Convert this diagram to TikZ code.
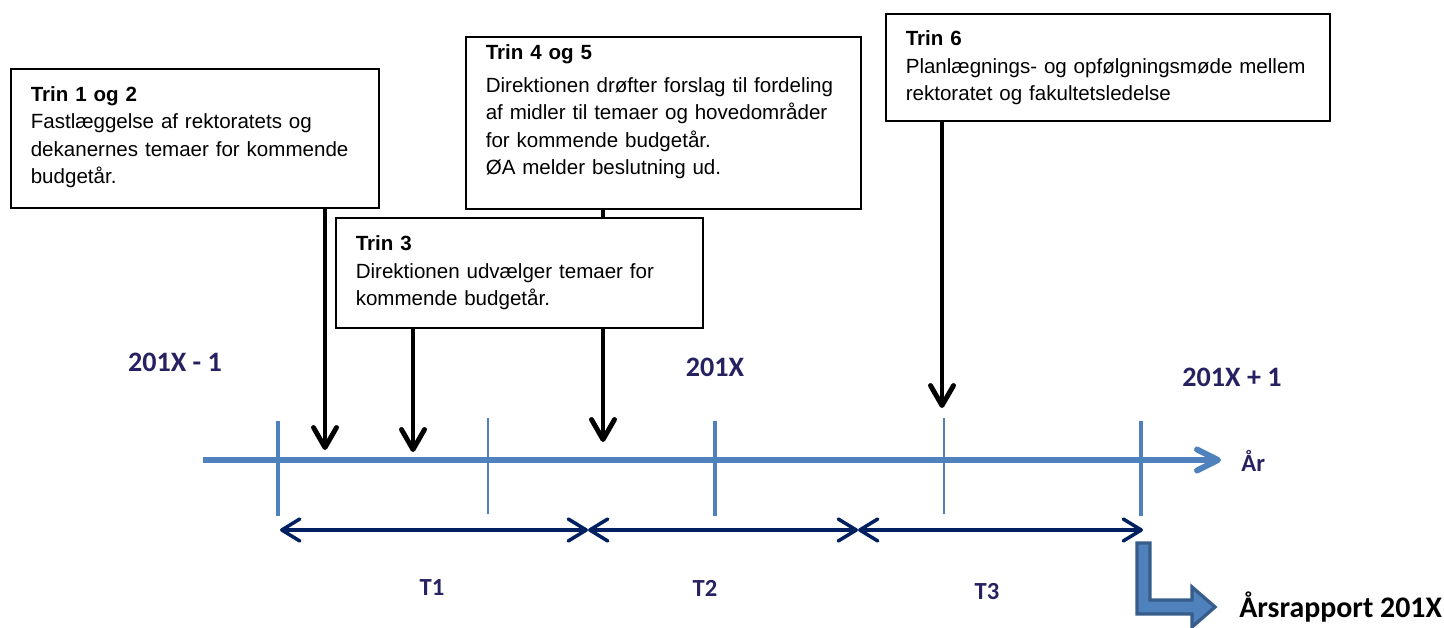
\documentclass[tikz,border=0pt]{standalone}
\usepackage{fontspec}
\setmainfont{Liberation Sans}
\newfontfamily\calibri{Carlito}
\usetikzlibrary{arrows.meta}
\hyphenpenalty=10000
\exhyphenpenalty=10000
\hbadness=10000
\hfuzz=2cm
\definecolor{AxisBlue}{RGB}{79,129,189}
\definecolor{SpanNavy}{RGB}{0,32,96}
\definecolor{LabelNavy}{RGB}{38,34,98}
\definecolor{ReportBlue}{RGB}{56,93,138}
\newcommand{\Px}{0.02cm}
\tikzset{StepBox/.style={
    draw=black,
    line width=0.9pt,
    fill=white,
    anchor=north west,
    inner xsep=0.4cm,
    inner ysep=0pt,
    align=left,
    font=\fontsize{11.7}{15.6}\selectfont
    }
}
\tikzset{StepArrow/.style={
    draw=black,
    line width=2.8pt,
    -{Straight Barb[length=0.4cm,width=0.46cm,round]}
    }
}
\tikzset{AxisLine/.style={
    draw=AxisBlue,
    line width=3.4pt,
    -{Straight Barb[length=0.42cm,width=0.42cm,round]}
    }
}
\tikzset{MajorTick/.style={draw=AxisBlue, line width=2.8pt}}
\tikzset{MinorTick/.style={draw=AxisBlue, line width=1.1pt}}
\tikzset{SpanArrow/.style={
    draw=SpanNavy,
    line width=2pt,
    {Straight Barb[length=0.36cm,width=0.44cm,round]}-{Straight Barb[length=0.36cm,width=0.44cm,round]}
    }
}
\tikzset{YearLabel/.style={
    text=LabelNavy,
    inner sep=0pt,
    font=\calibri\bfseries\fontsize{16}{19}\selectfont
    }
}
\tikzset{SpanLabel/.style={
    text=LabelNavy,
    inner sep=0pt,
    font=\calibri\bfseries\fontsize{14}{17}\selectfont
    }
}
\begin{document}
\begin{tikzpicture}[x=\Px, y=-\Px]
    \useasboundingbox (0,0) rectangle (1444,628);

    % time axis
    \coordinate (axisstart) at (203,460);
    \coordinate (axisend) at (1221,460);
    \draw[AxisLine] (axisstart) -- (axisend);
    \node (aar)[SpanLabel, anchor=west] at (1241,461) {År};

    \draw[MajorTick] (278,421) -- (278,516);
    \draw[MinorTick] (488,418) -- (488,514);
    \draw[MajorTick] (715,421) -- (715,516);
    \draw[MinorTick] (944,418) -- (944,514);
    \draw[MajorTick] (1141,421) -- (1141,516);

    \node (y0)[YearLabel] at (175,362) {201X - 1};
    \node (y1)[YearLabel] at (715,367) {201X};
    \node (y2)[YearLabel] at (1232,377) {201X + 1};

    % periods
    \coordinate (p0) at (280,530);
    \coordinate (p1) at (588,530);
    \coordinate (p2) at (858,530);
    \coordinate (p3) at (1143,530);
        \draw[SpanArrow] (p0) -- (p1);
        \draw[SpanArrow] (p1) -- (p2);
        \draw[SpanArrow] (p2) -- (p3);
    \node (t1)[SpanLabel] at (432,588) {T1};
    \node (t2)[SpanLabel] at (705,588) {T2};
    \node (t3)[SpanLabel] at (987,592) {T3};

    % steps
    \node (trin12)[StepBox, text width=6.56cm, text height=0.65cm, text depth=2.13cm] at (10,68)
    {\textbf{Trin 1 og 2}\\ Fastlæggelse af rektoratets og\\ dekanernes temaer for kommende\\ budgetår.};

    \node (trin45)[StepBox, text width=7.1cm, text height=0.46cm, text depth=2.98cm] at (465,36)
    {\textbf{Trin 4 og 5}\\[0.1cm] Direktionen drøfter forslag til fordeling\\ af midler til temaer og hovedområder\\ for kommende budgetår.\\ ØA melder beslutning ud.};

    \node (trin6)[StepBox, text width=8.08cm, text height=0.64cm, text depth=1.5cm] at (885,13)
    {\textbf{Trin 6}\\ Planlægnings- og opfølgningsmøde mellem\\ rektoratet og fakultetsledelse};

    \coordinate (s12) at (325,450);
    \coordinate (s3) at (413,452);
    \coordinate (s45) at (603,442);
    \coordinate (s6) at (942,408);
        \draw[StepArrow] (trin12.south -| s12) -- (s12);
        \draw[StepArrow] (trin45.south -| s45) -- (s45);
        \draw[StepArrow] (trin6.south -| s6) -- (s6);

    \node (trin3)[StepBox, text width=6.54cm, text height=0.66cm, text depth=1.54cm] at (335,217)
    {\textbf{Trin 3}\\ Direktionen udvælger temaer for\\ kommende budgetår.};
        \draw[StepArrow] (trin3.south -| s3) -- (s3);

    % annual report
    \node (rapport)[anchor=west, inner sep=0pt, font=\calibri\bfseries\fontsize{17}{20}\selectfont] at (1239,607) {Årsrapport 201X};
    \draw[fill=AxisBlue, draw=ReportBlue, line width=1.9pt, line join=miter]
        (1137,543) -- (1150,543) -- (1150,600) -- (1192,600) -- (1192,587)
        -- (1215,607) -- (1192,627) -- (1192,614) -- (1137,614) -- cycle;
\end{tikzpicture}
\end{document}
